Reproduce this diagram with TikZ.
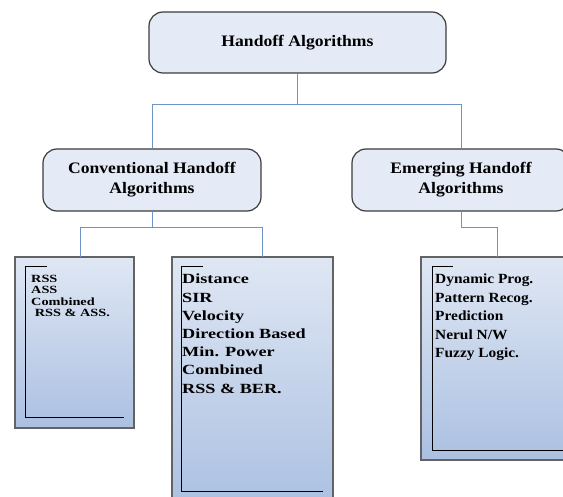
\documentclass[tikz,border=0pt]{standalone}
\usepackage{fontspec}
\setmainfont{Liberation Serif}
\newfontfamily\headfont[FakeStretch=1.1]{Liberation Serif}
\newfontfamily\listfont[FakeStretch=1.3]{Liberation Serif}
\usetikzlibrary{calc}

\definecolor{boxline}{HTML}{3C3C3C}
\definecolor{headfill}{HTML}{E5EBF6}
\definecolor{listtop}{HTML}{DFE7F3}
\definecolor{listbot}{HTML}{ABC0E2}
\definecolor{wire}{HTML}{6F93C9}

\tikzset{
  head/.style={draw=boxline, line width=1.2pt, rounded corners=14pt, fill=headfill,
    font=\headfont\bfseries\fontsize{16}{20}\selectfont, align=center, inner sep=0pt},
  listbox/.style={draw=boxline!80, line width=1.3pt, top color=listtop, bottom color=listbot, inner sep=0pt},
  listtext/.style={anchor=north west, align=left, inner sep=0pt},
  wirestyle/.style={wire, line width=1pt},
  frame/.style={black, line width=0.7pt}
}

\begin{document}
\begin{tikzpicture}[x=1pt, y=-1pt]

\useasboundingbox (0,0) rectangle (563,497);

% heads
\node [head, minimum width=297, minimum height=61] (root) at (297.5,42.5) {Handoff Algorithms};
\node [head, minimum width=218, minimum height=62] (conv) at (152,180) {Conventional Handoff\\Algorithms};
\node [head, minimum width=218, minimum height=62] (emer) at (461,180) {Emerging Handoff\\Algorithms};

% list boxes
\node [listbox, minimum width=119, minimum height=171] (rssbox) at (74.5,342.5) {};
\node [listbox, minimum width=161, minimum height=250] (convbox) at (252.5,382) {};
\node [listbox, minimum width=154, minimum height=203] (emerbox) at (498,358.5) {};

\coordinate (rssin) at (80,257);
\coordinate (convin) at (262,257);
\coordinate (emerin) at (497,257);

% connectors
\draw [wirestyle] (root.south) -- ++(0,31) -| (conv.north);
\draw [wirestyle] (root.south) -- ++(0,31) -| (emer.north);
\draw [wirestyle] (conv.south) -- ++(0,16) -| (rssin);
\draw [wirestyle] (conv.south) -- ++(0,16) -| (convin);
\draw [wirestyle] (emer.south) -- ++(0,16) -| (emerin);

% inner frames
\draw [frame] (47,266) -- (25,266) -- (25,417) -- (124,417);
\draw [frame] (203,266) -- (181,266) -- (181,491) -- (323,491);
\draw [frame] (453,266) -- (432,266) -- (432,450) -- (563,450);

% list texts
\node [listtext, font=\listfont\bfseries\fontsize{11}{11.4}\selectfont] (rsstext) at (31,275)
  {RSS\\ASS\\Combined\\\ RSS \& ASS.};
\node [listtext, font=\listfont\bfseries\fontsize{14}{18.2}\selectfont] (convtext) at (182,274)
  {Distance\\SIR\\Velocity\\Direction Based\\Min. Power\\Combined\\RSS \& BER.};
\node [listtext, font=\headfont\bfseries\fontsize{14}{18.5}\selectfont] (emertext) at (435,274)
  {Dynamic Prog.\\Pattern Recog.\\Prediction\\Nerul N/W\\Fuzzy Logic.};

\end{tikzpicture}
\end{document}
